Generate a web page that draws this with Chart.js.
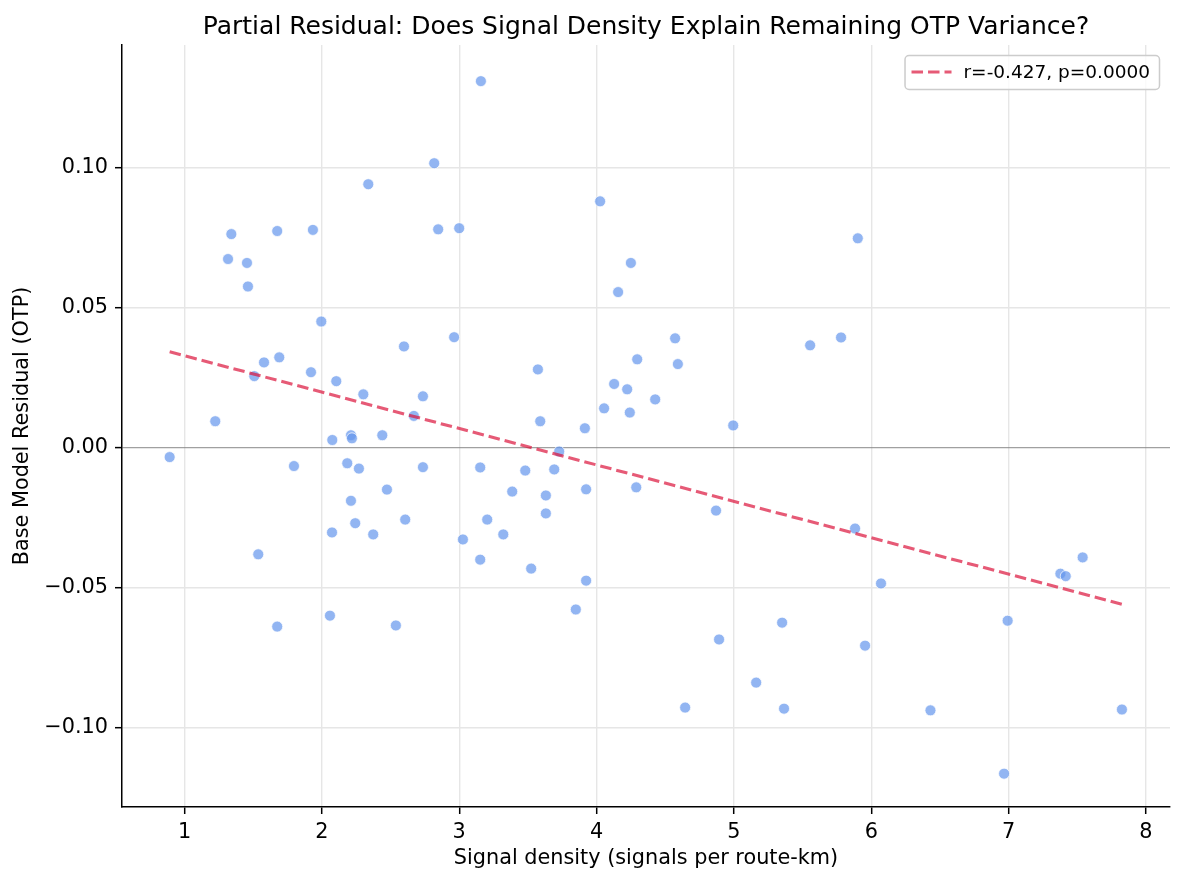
<!DOCTYPE html>
<html><head><meta charset="utf-8">
<script src="https://cdn.jsdelivr.net/npm/chart.js@4/dist/chart.umd.min.js"></script>
<style>html,body{margin:0;padding:0;background:#fff}#wrap{width:1185px;height:885px}</style>
</head><body><div id="wrap"><canvas id="c" width="1185" height="885"></canvas></div>
<script>
const densityX = [0.892,1.224,1.317,1.341,1.455,1.462,1.508,1.537,1.579,1.675,1.675,1.690,1.797,1.921,1.935,1.996,2.059,2.074,2.076,2.105,2.185,2.212,2.219,2.212,2.243,2.270,2.302,2.338,2.374,2.440,2.474,2.539,2.598,2.607,2.670,2.736,2.736,2.818,2.847,2.963,3.000,3.027,3.153,3.153,3.158,3.204,3.321,3.386,3.481,3.524,3.573,3.590,3.631,3.631,3.692,3.728,3.849,3.915,3.924,3.924,4.026,4.055,4.128,4.157,4.223,4.242,4.250,4.289,4.296,4.427,4.572,4.592,4.645,4.870,4.892,4.995,5.162,5.351,5.365,5.555,5.780,5.882,5.902,5.955,6.071,6.431,6.967,6.993,7.377,7.416,7.539,7.825];
const residualY = [-0.0033,0.0095,0.0674,0.0763,0.0660,0.0576,0.0256,-0.0380,0.0305,0.0774,-0.0638,0.0323,-0.0065,0.0270,0.0778,0.0451,-0.0599,-0.0302,0.0028,0.0238,-0.0055,0.0045,0.0034,-0.0189,-0.0269,-0.0074,0.0191,0.0941,-0.0309,0.0045,-0.0149,-0.0634,0.0362,-0.0256,0.0114,0.0184,-0.0069,0.1016,0.0780,0.0395,0.0784,-0.0327,-0.0070,-0.0399,0.1309,-0.0256,-0.0309,-0.0156,-0.0081,-0.0431,0.0280,0.0095,-0.0170,-0.0234,-0.0077,-0.0013,-0.0577,0.0070,-0.0148,-0.0474,0.0880,0.0141,0.0228,0.0556,0.0209,0.0126,0.0660,-0.0141,0.0316,0.0173,0.0391,0.0299,-0.0927,-0.0224,-0.0684,0.0080,-0.0838,-0.0624,-0.0931,0.0366,0.0394,-0.0288,0.0748,-0.0706,-0.0484,-0.0937,-0.1163,-0.0617,-0.0449,-0.0458,-0.0391,-0.0934];
const trendX = [0.892, 7.825];
const trendY = [0.0343, -0.0558];
const xTicks = [1,2,3,4,5,6,7,8];
const yTicks = [-0.10,-0.05,0.00,0.05,0.10];
const legendLabel = 'r=-0.427, p=0.0000';
const titleText = 'Partial Residual: Does Signal Density Explain Remaining OTP Variance?';
const xTitle = 'Signal density (signals per route-km)';
const yTitle = 'Base Model Residual (OTP)';

const FONT = "'DejaVu Sans', sans-serif";
const lineColor = 'rgba(220,20,60,0.7)';

const legendPlugin = {
  id: 'boxLegend',
  afterDraw(chart) {
    const {ctx, chartArea} = chart;
    ctx.save();
    ctx.font = "18.5px 'DejaVu Sans'";
    const tw = ctx.measureText(legendLabel).width;
    const w = 59 + tw + 9, h = 34;
    const x = chartArea.right - 11 - w, y = chartArea.top + 10;
    ctx.beginPath();
    ctx.roundRect(x + 0.5, y + 0.5, w, h, 4);
    ctx.fillStyle = 'rgba(255,255,255,0.8)';
    ctx.fill();
    ctx.strokeStyle = '#cccccc';
    ctx.lineWidth = 1.5;
    ctx.stroke();
    ctx.beginPath();
    ctx.setLineDash([11.5, 5]);
    ctx.strokeStyle = lineColor;
    ctx.lineWidth = 3.1;
    ctx.moveTo(x + 7, y + h/2);
    ctx.lineTo(x + 47, y + h/2);
    ctx.stroke();
    ctx.setLineDash([]);
    ctx.fillStyle = '#000';
    ctx.textBaseline = 'middle';
    ctx.textAlign = 'left';
    ctx.fillText(legendLabel, x + 59, y + h/2 + 1);
    ctx.restore();
  }
};

new Chart(document.getElementById('c'), {
  data: {
    datasets: [
      {
        type: 'line',
        label: legendLabel,
        data: trendX.map((x, i) => ({x, y: trendY[i]})),
        borderColor: lineColor,
        borderWidth: 3.1,
        borderDash: [11.5, 5],
        pointRadius: 0,
        fill: false,
        order: 0
      },
      {
        type: 'scatter',
        label: 'residuals',
        data: densityX.map((x, i) => ({x, y: residualY[i]})),
        backgroundColor: 'rgba(100,149,237,0.7)',
        borderColor: 'rgba(255,255,255,0.9)',
        borderWidth: 0.8,
        pointRadius: 5.5,
        order: 1
      }
    ]
  },
  options: {
    responsive: false,
    animation: false,
    devicePixelRatio: 1,
    layout: {padding: {left: 0, right: 15, top: 0, bottom: 0}},
    plugins: {
      legend: {display: false},
      tooltip: {enabled: false},
      title: {
        display: true, text: titleText, color: '#000', fullSize: false,
        font: {family: FONT, size: 25, weight: 'normal', lineHeight: 1.2},
        padding: {top: 12, bottom: 3}
      }
    },
    scales: {
      x: {
        type: 'linear', min: 0.545, max: 8.175,
        afterBuildTicks: s => { s.ticks = xTicks.map(v => ({value: v})); },
        afterFit: s => { s.height = 78; },
        ticks: {color: '#000', font: {family: FONT, size: 20.8}, padding: 6, callback: v => String(v), maxRotation: 0},
        grid: {color: '#e6e6e6', lineWidth: 1.4, tickColor: '#000', tickLength: 7, tickWidth: 1.5},
        border: {color: '#000', width: 1.5},
        title: {display: true, text: xTitle, color: '#000', font: {family: FONT, size: 20.8, lineHeight: 1.2}, padding: {top: 0, bottom: 13.5}}
      },
      y: {
        type: 'linear', min: -0.1282, max: 0.1438,
        afterBuildTicks: s => { s.ticks = yTicks.map(v => ({value: v})); },
        afterFit: s => { s.width = 122; },
        ticks: {color: '#000', font: {family: FONT, size: 20.8}, padding: 7, callback: v => v.toFixed(2).replace('-', '\u2212')},
        grid: {
          color: c => (c.tick && Math.abs(c.tick.value) < 1e-9) ? 'rgba(128,128,128,0.75)' : '#e6e6e6',
          lineWidth: c => (c.tick && Math.abs(c.tick.value) < 1e-9) ? 1.2 : 1.4,
          tickColor: '#000', tickLength: 7, tickWidth: 1.5
        },
        border: {color: '#000', width: 1.5},
        title: {display: true, text: yTitle, color: '#000', font: {family: FONT, size: 20.8, lineHeight: 1.2}, padding: {top: 10.5, bottom: 0}}
      }
    }
  },
  plugins: [legendPlugin]
});
</script>
</body></html>
